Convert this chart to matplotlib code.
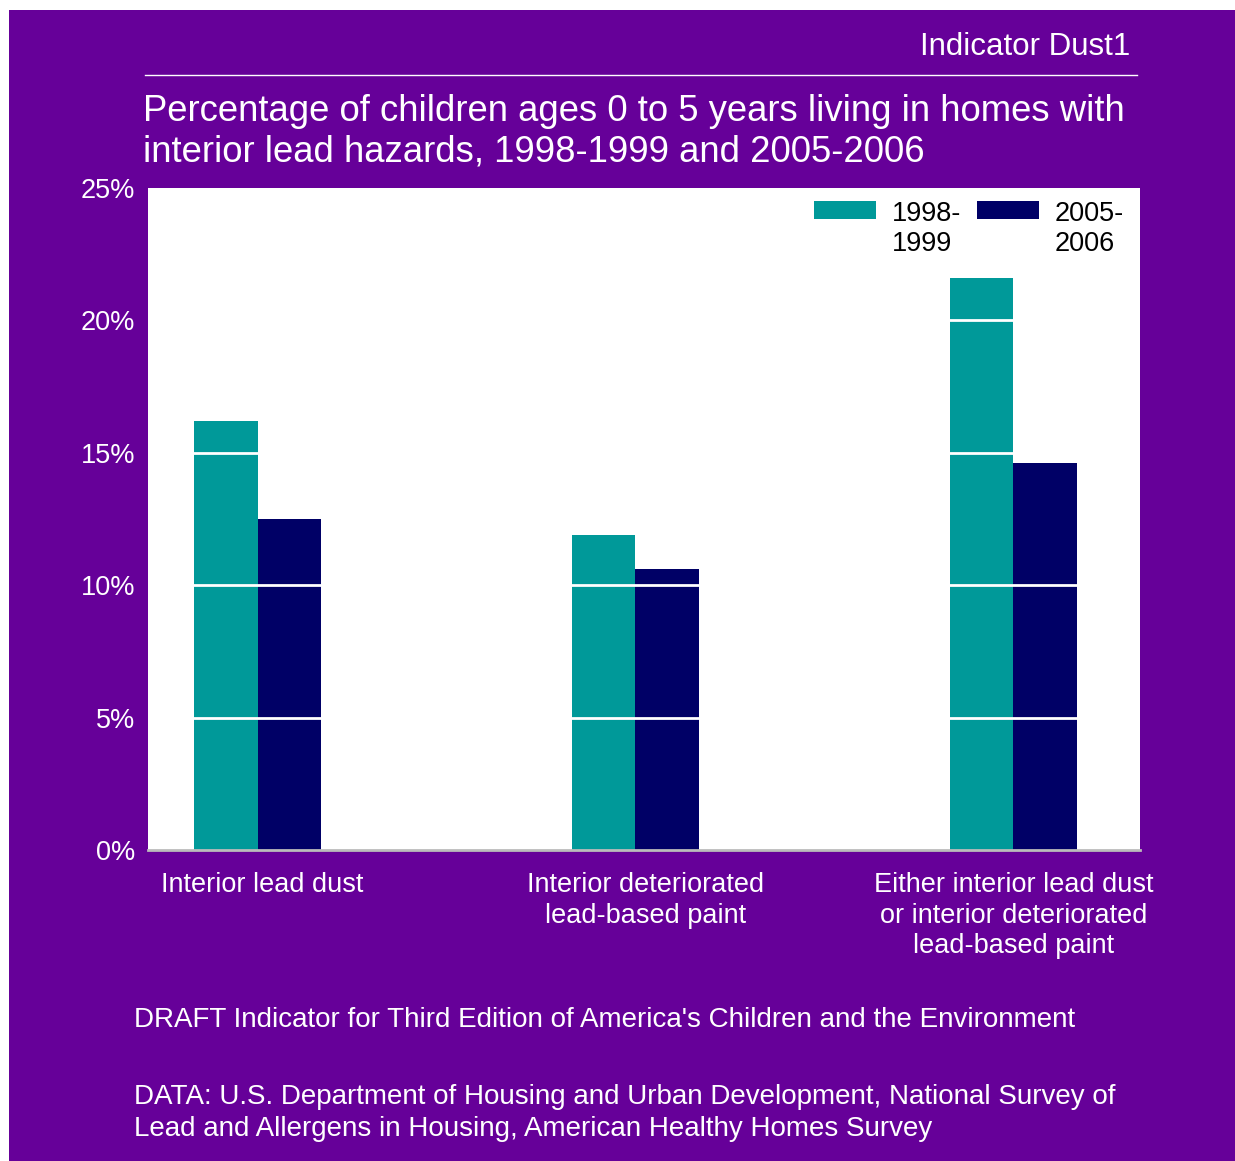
import matplotlib.pyplot as plt
import matplotlib.transforms as mtransforms
import numpy as np
from matplotlib.patches import Rectangle
from matplotlib.lines import Line2D

plt.rcParams['font.family'] = ['Liberation Sans', 'DejaVu Sans']

# data
categories = ['Interior lead dust',
              'Interior deteriorated\nlead-based paint',
              'Either interior lead dust\nor interior deteriorated\nlead-based paint']
series_names = ['1998-\n1999', '2005-\n2006']
vals_9899 = [16.2, 11.9, 21.6]
vals_0506 = [12.5, 10.6, 14.6]
yticks = [0, 5, 10, 15, 20, 25]

purple = '#660099'
teal = '#009999'
navy = '#000066'

W, H = 1235, 1161
fig = plt.figure(figsize=(W / 100, H / 100), dpi=100)
fig.patch.set_facecolor(purple)

# white strip on top and left
fig.patches.append(Rectangle((0, 0), 9 / W, 1, transform=fig.transFigure,
                             facecolor='white', edgecolor='none', zorder=-10))
fig.patches.append(Rectangle((0, 1 - 10 / H), 1, 10 / H, transform=fig.transFigure,
                             facecolor='white', edgecolor='none', zorder=-10))

ax = fig.add_axes([148 / W, 1 - 850 / H, 992 / W, 662 / H])
ax.set_facecolor('white')

x = np.arange(len(categories))
bw = 0.169
ax.bar(x - bw / 2, vals_9899, bw, color=teal, label=series_names[0], zorder=1)
ax.bar(x + bw / 2, vals_0506, bw, color=navy, label=series_names[1], zorder=1)

ax.set_xlim(-0.29, 2.335)
ax.set_ylim(0, 25)
ax.set_yticks(yticks)
ax.set_yticklabels([f'{t}%' for t in yticks])
for t in yticks[1:-1]:
    ax.axhline(t, color='white', lw=2, zorder=2)

ax.set_xticks(x)
ax.set_xticklabels(categories, linespacing=1.22)
ax.tick_params(axis='both', length=0, colors='white', labelsize=19.5)
ax.tick_params(axis='y', pad=9)
ax.tick_params(axis='x', pad=16)
# small horizontal nudges of the category labels, as in the original
for lab, dx in zip(ax.get_xticklabels(), [4.5, 10.5, 0]):
    lab.set_transform(lab.get_transform() +
                      mtransforms.ScaledTranslation(dx / 100, 0, fig.dpi_scale_trans))

for s in ['top', 'left', 'right']:
    ax.spines[s].set_visible(False)
ax.spines['bottom'].set_color('#bbbbbb')
ax.spines['bottom'].set_linewidth(2)
ax.spines['bottom'].set_zorder(3)

leg = ax.legend(ncol=2, loc='upper right', bbox_to_anchor=(0.995, 0.997),
                frameon=False, fontsize=19.5, handlelength=2.29, handleheight=0.63,
                handletextpad=0.59, columnspacing=0.59, borderaxespad=0,
                labelspacing=0.2)
for txt in leg.get_texts():
    txt.set_color('black')
    txt.set_linespacing(1.2)
# put the colour patch next to the first line of each label
for col in leg._legend_handle_box.get_children():
    for row in col.get_children():
        row.align = 'top'

# header
fig.text(1130 / W, 1 - 47 / H, 'Indicator Dust1', color='white', fontsize=22.5,
         ha='right', va='center')
fig.add_artist(Line2D([145 / W, 1137 / W], [1 - 75 / H, 1 - 75 / H],
                      color='white', lw=1, transform=fig.transFigure))
fig.text(143 / W, 1 - 132 / H,
         'Percentage of children ages 0 to 5 years living in homes with\n'
         'interior lead hazards, 1998-1999 and 2005-2006',
         color='white', fontsize=26.3, ha='left', va='center', linespacing=1.2)

# footer
fig.text(134 / W, 1 - 1020 / H,
         "DRAFT Indicator for Third Edition of America's Children and the Environment",
         color='white', fontsize=20, ha='left', va='center')
fig.text(134 / W, 1 - 1113 / H,
         'DATA: U.S. Department of Housing and Urban Development, National Survey of\n'
         'Lead and Allergens in Housing, American Healthy Homes Survey',
         color='white', fontsize=20, ha='left', va='center', linespacing=1.25)

fig.savefig('out.png', dpi=100, facecolor=fig.get_facecolor())
